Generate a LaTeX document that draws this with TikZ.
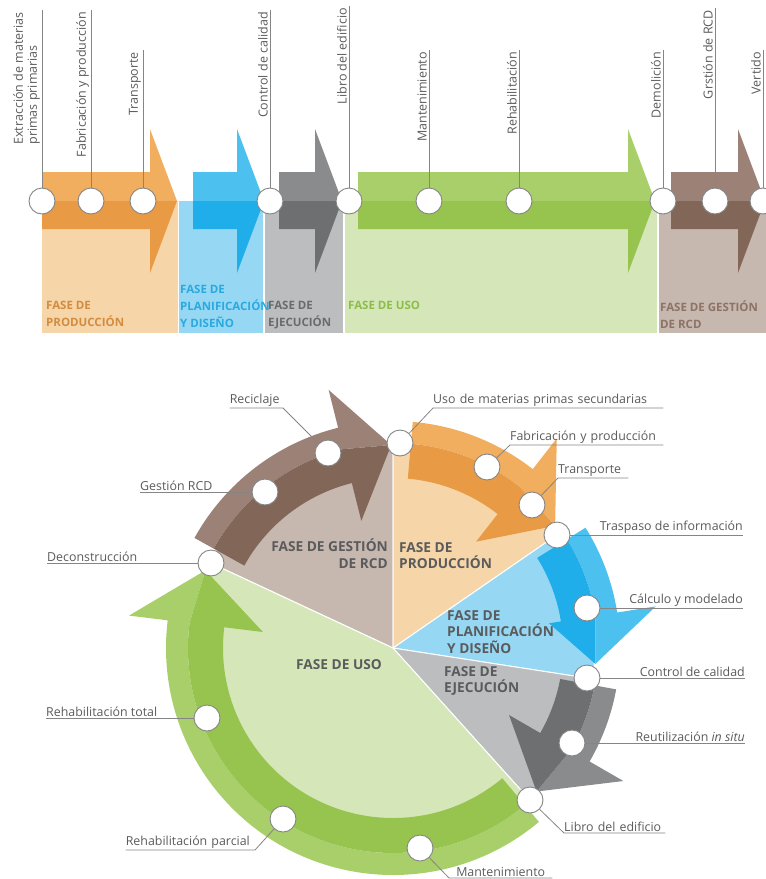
\documentclass[tikz,border=0pt]{standalone}
\usepackage{fontspec}
\setmainfont{Open Sans}
\usepackage{tikz}
\definecolor{prodA}{HTML}{F0AE5E}
\definecolor{prodB}{HTML}{E89A45}
\definecolor{prodC}{HTML}{F6D5A8}
\definecolor{prodT}{HTML}{D38C3F}
\definecolor{planA}{HTML}{4CC0EE}
\definecolor{planB}{HTML}{1FAEE9}
\definecolor{planC}{HTML}{96D8F4}
\definecolor{planT}{HTML}{2AA9DE}
\definecolor{ejecA}{HTML}{8A8B8D}
\definecolor{ejecB}{HTML}{6E6F71}
\definecolor{ejecC}{HTML}{BCBDBF}
\definecolor{ejecT}{HTML}{6A6B6D}
\definecolor{usoA}{HTML}{A8CF6A}
\definecolor{usoB}{HTML}{96C44F}
\definecolor{usoC}{HTML}{D5E7B9}
\definecolor{usoT}{HTML}{8CBD4A}
\definecolor{rcdA}{HTML}{9C8276}
\definecolor{rcdB}{HTML}{826759}
\definecolor{rcdC}{HTML}{C6B8AF}
\definecolor{rcdT}{HTML}{8D7266}
\definecolor{linegray}{HTML}{858585}
\definecolor{labelgray}{HTML}{5B5B5B}
\definecolor{piegray}{HTML}{5A5B5D}
% straight phase arrow: start, head base, light, dark
\newcommand{\flatarrow}[4]{%
  \fill[#3] (#1,172) -- (#2,172) -- (#2,129) -- ({#2+27},201) -- (#1,201) -- cycle;
  \fill[#4] (#1,201) -- ({#2+27},201) -- (#2,273) -- (#2,229) -- (#1,229) -- cycle;}
% curved phase arrow: start angle, head angle, tip angle, light, dark, inner barb
\newcommand{\ringarrow}[6]{%
  \fill[#4] (#1:205) -- (#1:227) arc[start angle=#1, end angle=#2, radius=227]
    -- (#2:266) -- (#3:203) -- (#2:205) arc[start angle=#2, end angle=#1, radius=205] -- cycle;
  \fill[#5] (#1:205) -- (#1:170) arc[start angle=#1, end angle=#2, radius=170]
    -- (#2:#6) -- (#3:203) -- (#2:205) arc[start angle=#2, end angle=#1, radius=205] -- cycle;}

\begin{document}
\begin{tikzpicture}[x=1pt,y=-1pt]
  \tikzstyle{dot}=[circle, draw=linegray, fill=white, line width=0.9pt, minimum size=26pt, inner sep=0pt]
  \tikzstyle{lead}=[draw=linegray, line width=0.8pt]
  \tikzstyle{vlabel}=[rotate=90, anchor=south east, inner sep=2pt, align=left, text=labelgray, font=\fontsize{12.5}{14}\selectfont]
  \tikzstyle{hlabel}=[inner xsep=0pt, inner ysep=1.5pt, text=labelgray, font=\fontsize{12.4}{14}\selectfont]
  \tikzstyle{phase}=[anchor=north west, align=left, inner sep=0pt, font=\fontsize{11.5}{17}\selectfont\bfseries]
  \tikzstyle{piephase}=[inner sep=0pt, text=piegray, font=\fontsize{13.7}{16.8}\selectfont\bfseries]
  \tikzstyle{sector}=[draw=white, line width=1pt]

  \useasboundingbox (0,0) rectangle (766,879);
  \clip (0,0) rectangle (766,879);

  % phase backgrounds
  \fill[prodC] (42,201) rectangle (178,333);
  \fill[planC] (179,201) rectangle (263,333);
  \fill[ejecC] (265,201) rectangle (343,333);
  \fill[usoC] (345,201) rectangle (657,333);
  \fill[rcdC] (659,201) rectangle (766,333);

  % phase arrows
  \flatarrow{42}{150}{prodA}{prodB}
  \flatarrow{193}{237}{planA}{planB}
  \flatarrow{279}{315}{ejecA}{ejecB}
  \flatarrow{358}{628}{usoA}{usoB}
  \flatarrow{671}{738}{rcdA}{rcdB}

  % timeline points
  \node[dot] (p1) at (42,201) {};
  \node[dot] (p2) at (91,201) {};
  \node[dot] (p3) at (143,201) {};
  \node[dot] (p4) at (270,201) {};
  \node[dot] (p5) at (349,201) {};
  \node[dot] (p6) at (429,201) {};
  \node[dot] (p7) at (519,201) {};
  \node[dot] (p8) at (663,201) {};
  \node[dot] (p9) at (715,201) {};
  \node[dot] (p10) at (763,201) {};

  % timeline labels
  \node[vlabel] (l1) at (42,10) {Extracción de materias\\primas primarias};
  \node[vlabel] (l2) at (91,10) {Fabricación y producción};
  \node[vlabel] (l3) at (143,50) {Transporte};
  \node[vlabel] (l4) at (270,10) {Control de calidad};
  \node[vlabel] (l5) at (349,6) {Libro del edificio};
  \node[vlabel] (l6) at (429,50) {Mantenimiento};
  \node[vlabel] (l7) at (519,50) {Rehabilitación};
  \node[vlabel] (l8) at (663,50) {Demolición};
  \node[vlabel] (l9) at (715,8) {Grstión de RCD};
  \node[vlabel] (l10) at (763,50) {Vertido};

  \draw[lead] (p1) -- (l1.south east);
  \draw[lead] (p2) -- (l2.south east);
  \draw[lead] (p3) -- (l3.south east);
  \draw[lead] (p4) -- (l4.south east);
  \draw[lead] (p5) -- (l5.south east);
  \draw[lead] (p6) -- (l6.south east);
  \draw[lead] (p7) -- (l7.south east);
  \draw[lead] (p8) -- (l8.south east);
  \draw[lead] (p9) -- (l9.south east);
  \draw[lead] (p10) -- (l10.south east);

  % phase names
  \node[phase, text=prodT] (f1) at (46,301) {FASE DE\\PRODUCCIÓN};
  \node[phase, text=planT] (f2) at (180,285) {FASE DE\\PLANIFICACIÓN\\Y DISEÑO};
  \node[phase, text=ejecT] (f3) at (268,301) {FASE DE\\EJECUCIÓN};
  \node[phase, text=usoT] (f4) at (348,301) {FASE DE USO};
  \node[phase, text=rcdT] (f5) at (660,301) {FASE DE GESTIÓN\\DE RCD};

  % cycle
  \begin{scope}[shift={(393,648)}, y=1pt]
    % sectors
    \filldraw[sector, fill=rcdC] (0,0) -- (90:202) arc[start angle=90, end angle=155, radius=202] -- cycle;
    \filldraw[sector, fill=prodC] (0,0) -- (34.6:202) arc[start angle=34.6, end angle=90, radius=202] -- cycle;
    \filldraw[sector, fill=planC] (0,0) -- (-8.8:202) arc[start angle=-8.8, end angle=34.6, radius=202] -- cycle;
    \filldraw[sector, fill=ejecC] (0,0) -- (-48:202) arc[start angle=-48, end angle=-8.8, radius=202] -- cycle;
    \filldraw[sector, fill=usoC] (0,0) -- (155:202) arc[start angle=155, end angle=312, radius=202] -- cycle;
    % arrows
    \ringarrow{151}{104}{90.5}{rcdA}{rcdB}{131}
    \ringarrow{85}{52}{37}{prodA}{prodB}{135}
    \ringarrow{32}{9}{-4.5}{planA}{planB}{158}
    \ringarrow{-10.5}{-30}{-45}{ejecA}{ejecB}{134}
    \ringarrow{-50}{-187}{-202.5}{usoA}{usoB}{131}
  \end{scope}

  % cycle points
  \node[dot] (c1) at (400,443) {};
  \node[dot] (c2) at (487,467) {};
  \node[dot] (c3) at (532,505) {};
  \node[dot] (c4) at (557,535) {};
  \node[dot] (c5) at (587,608) {};
  \node[dot] (c6) at (587,678) {};
  \node[dot] (c7) at (572,743) {};
  \node[dot] (c8) at (530,800) {};
  \node[dot] (c9) at (420,848) {};
  \node[dot] (c10) at (283,819) {};
  \node[dot] (c11) at (207,718) {};
  \node[dot] (c12) at (211,563) {};
  \node[dot] (c13) at (265,492) {};
  \node[dot] (c14) at (328,453) {};

  % cycle labels
  \node[hlabel, anchor=south west, text width=230pt, align=left] (m1) at (433,408) {Uso de materias primas secundarias};
  \node[hlabel, anchor=south west, text width=153pt, align=left] (m2) at (510,445) {Fabricación y producción};
  \node[hlabel, anchor=south west, text width=70pt, align=left] (m3) at (558,478) {Transporte};
  \node[hlabel, anchor=south east] (m4) at (743,535) {Traspaso de información};
  \node[hlabel, anchor=south east] (m5) at (743,608) {Cálculo y modelado};
  \node[hlabel, anchor=south east] (m6) at (745,678) {Control de calidad};
  \node[hlabel, anchor=south east] (m7) at (745,743) {Reutilización \textit{in situ}};
  \node[hlabel, anchor=south west, text width=101pt, align=left] (m8) at (564,833) {Libro del edificio};
  \node[hlabel, anchor=south west, text width=103pt, align=center] (m9) at (449,878) {Mantenimiento};
  \node[hlabel, anchor=south east, text width=129pt, align=left] (m10) at (255,850) {Rehabilitación parcial};
  \node[hlabel, anchor=south west] (m11) at (46,718) {Rehabilitación total};
  \node[hlabel, anchor=south west] (m12) at (47,563) {Deconstrucción};
  \node[hlabel, anchor=south west] (m13) at (140,492) {Gestión RCD};
  \node[hlabel, anchor=south east, text width=53pt, align=left] (m14) at (283,408) {Reciclaje};

  \draw[lead] (c1) -- (m1.south west) -- (m1.south east);
  \draw[lead] (c2) -- (m2.south west) -- (m2.south east);
  \draw[lead] (c3) -- (m3.south west) -- (m3.south east);
  \draw[lead] (c4) -- (m4.south east);
  \draw[lead] (c5) -- (m5.south east);
  \draw[lead] (c6) -- (m6.south east);
  \draw[lead] (c7) -- (m7.south east);
  \draw[lead] (c8) -- (m8.south west) -- (m8.south east);
  \draw[lead] (c9) -- (m9.south west) -- (m9.south east);
  \draw[lead] (c10) -- (m10.south east) -- (m10.south west);
  \draw[lead] (c11) -- (m11.south west);
  \draw[lead] (c12) -- (m12.south west);
  \draw[lead] (c13) -- (m13.south west);
  \draw[lead] (c14) -- (m14.south east) -- (m14.south west);

  % cycle phase names
  \node[piephase, anchor=north east, align=right] (g1) at (388,539) {FASE DE GESTIÓN\\DE RCD};
  \node[piephase, anchor=north west, align=left] (g2) at (399,542) {FASE DE\\PRODUCCIÓN};
  \node[piephase, anchor=north west, align=left] (g3) at (447,610) {FASE DE\\PLANIFICACIÓN\\Y DISEÑO};
  \node[piephase, anchor=west] (g4) at (296,665) {FASE DE USO};
  \node[piephase, anchor=north west, align=left] (g5) at (444,666) {FASE DE\\EJECUCIÓN};
\end{tikzpicture}
\end{document}
